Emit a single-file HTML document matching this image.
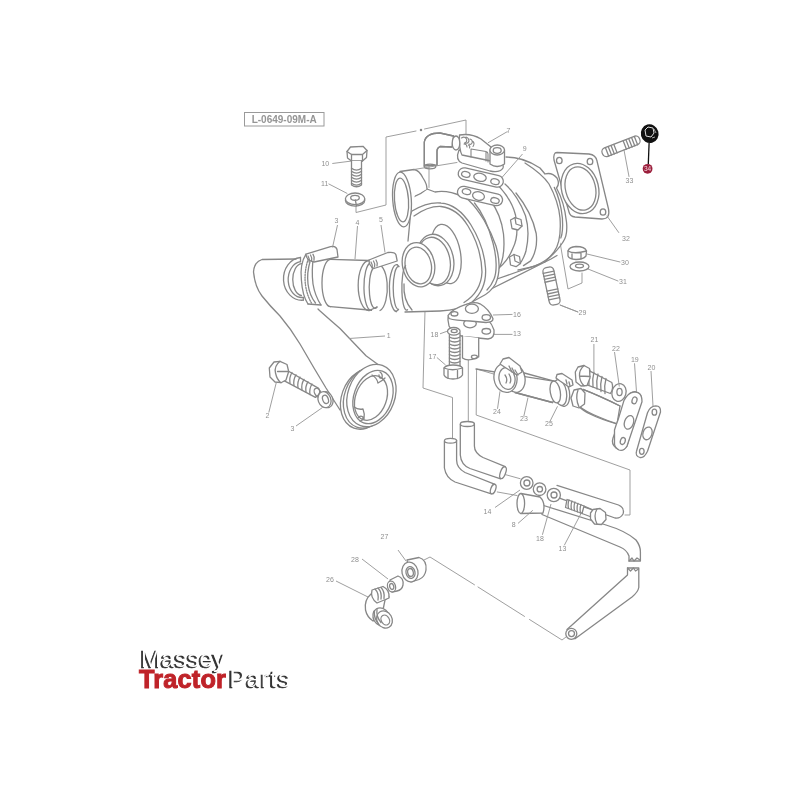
<!DOCTYPE html>
<html><head><meta charset="utf-8"><style>
html,body{margin:0;padding:0;background:#fff;width:800px;height:800px;overflow:hidden}
svg{display:block;filter:blur(0.35px)}
.l{fill:none;stroke:#878787;stroke-width:1.3;stroke-linecap:round;stroke-linejoin:round}
.t{fill:none;stroke:#949494;stroke-width:0.9}
.n{font-family:"Liberation Sans",sans-serif;font-size:7px;fill:#8f8f8f}
</style></head><body>
<svg width="800" height="800" viewBox="0 0 800 800">
<rect width="800" height="800" fill="#fff"/>
<!-- label box -->
<rect x="244.5" y="112.5" width="79.5" height="13.5" fill="none" stroke="#9a9a9a" stroke-width="1"/>
<text x="284.2" y="122.8" text-anchor="middle" font-family="Liberation Sans, sans-serif" font-weight="bold" font-size="10" fill="#959595">L-0649-09M-A</text>

<g class="l">
<!-- assembly lines -->
<path class="t" d="M356,206 L356,212.5 L386,205 L386,137 L416,131 M424.5,129 L466,120 L466,136"/><circle cx="421" cy="130" r="0.6" fill="#aaa"/>
<path class="t" d="M429,166.5 L429,187.5"/>
<path class="t" d="M560,242 L568,289 L582,283 L582,273"/>
<path class="t" d="M425,311 L423,388 L452.5,397.5 L452.5,440"/>
<path class="t" d="M468.3,360 L468.3,422.5"/>
<path class="t" d="M497,375 L476.6,369 L476.2,415 L630,470 L630,515 L625,515"/>
<path class="t" d="M424,560 L430,557 L474.5,584.8 M478,587 L524.5,616.4 M529.5,619.5 L562,640 L566,637"/>
</g>
<!-- PIPE 1 -->
<g class="l">
<path fill="#fff" stroke="none" d="M296,259 L262,259.5 Q254,262 253.5,272 Q255,287 262,296 Q270,306 280,316 Q291,329 300,344 L314,368 L326,388 L340,410 L378,364.5 L366,355.7 Q352,341 340,328.5 Q329,319 316,303 Z"/>
<path d="M296,259 L262,259.5 Q254,262 253.5,272 Q255,287 262,296 Q270,306 280,316 Q291,329 300,344 L314,368 L326,388 L340,410"/>
<path d="M378,364.5 L366,355.7 Q352,341 340,328.5 Q329,319 319.5,310.5 L318,309"/>
<!-- flange -->
<ellipse cx="364.5" cy="399" rx="23" ry="31" transform="rotate(20 364.5 399)" fill="#fff"/>
<ellipse cx="367.5" cy="397.5" rx="23" ry="31.5" transform="rotate(20 367.5 397.5)" fill="#fff"/>
<ellipse cx="371.4" cy="395.5" rx="23.5" ry="32" transform="rotate(20 371.4 395.5)" fill="#fff"/>
<ellipse cx="373" cy="397" rx="19" ry="27.5" transform="rotate(20 373 397)" fill="#fff"/>
<ellipse cx="371" cy="398" rx="15.5" ry="23" transform="rotate(20 371 398)" fill="#fff"/>
<path d="M372,375 Q377,378 378,383 Q382,381 385,378 M380,372 q3,2 2,6 q-3,1 -3,-3"/>
<path d="M354,407 Q358,410 363,409 Q365,414 364,419 M358,418 q2,-3 5,-1 q0,4 -3,4"/>
</g>
<!-- TURBO -->
<g class="l">
<!-- turbine housing outer -->
<path fill="#fff" stroke="none" d="M506,157 C515,157 528,160 540,168 L545,174 Q552,172 557,178 Q560,184 556.5,188 C561,196 564,208 565,222 C566,232 565,238 561,242 C556,253 547,261 535,266 C528,268 522,269 500,272 L480,205 Z"/>
<path d="M506,157 C515,157 528,160 540,168 L545,174 Q552,172 557,178 Q560,184 556.5,188 C561,196 565,208 566.5,222 C567.5,232 566,238 563,242 C556,253 547,261 535,266 C528,268 522,269 518,270"/>
<path d="M554.3,187.4 C558,195 561,205 562.4,218 C563,228 562.5,234 560.8,238"/>
<path d="M525,163 C536,170 545,178 549,184 C555,195 559,207 560,218 C561,232 559,245 554,252 C551,256 548,259 544.5,262.2"/>
<path d="M516,193 C525,204 533,218 536.2,233.5 C537.5,244 535,254 530.7,260.9 L523.5,265.6"/>
<path d="M505,184 C514,192 521,204 525.5,215.7 C528.5,226 528.5,240 525.9,251.3 C524.5,256 523,259 521.2,262"/>
<path d="M498.8,186 C507,195 513,205 515.5,215 C518,228 517,240 513,248 C510,256 505,263 499,268"/>
<path d="M490,200 C497,209 502,222 503.5,234 C505,250 503,262 498,270 L494,276"/>
<!-- bolts -->
<path fill="#fff" d="M510.5,220 L515,217.7 L521,219.5 L522,226 L518,230 L512,228.5 Z M509.5,257 L514,254.5 L519.5,256.5 L520.5,263.5 L516,266.7 L510.5,265 Z"/>
<path d="M515,217.7 L516,224 L522,226 M514,254.5 L515,261 L520.5,263.5"/>
<!-- foot -->
<path d="M497,279 L541,263.5 M491,289 L551,259 L557,255.5"/>
<!-- compressor back -->
<path fill="#fff" stroke="none" d="M411,198 C416,196 420,195 427,189 L435,192 C445,190 458,193 468.5,200 C479,210 490,228 496,246 C500,260 500,274 495.5,284 C492,290 487,294 482,296.5 L440,311 L410,311 Z"/>
<path d="M411,198 C416,196 420,195 427,189 L435,192 C445,190 458,193 468.5,200 C479,210 490,228 496,246 C500,260 500,274 495.5,284 C492,290 487,294 482,296.5 L472,302"/>
<path d="M474.5,203 C482,212 489,228 493,243 C497,258 497,272 494,279 C492,284 490,287 487,290"/>
<!-- compressor front disc -->
<path fill="#fff" stroke="none" d="M412,211 C422,205 432,202 441,203 C454,204 464,214 471,225 C479,238 484.5,253 485.5,268 C486.5,282 481,294 472,302 C463,308 452,310.5 440,311 L410,311 L406,266 Z"/>
<path d="M408,241 L410,220 Q410,214 412,211 C422,205 432,202 441,203 C454,204 464,214 471,225 C479,238 484.5,253 485.5,268 C486.5,282 481,294 472,302 C463,308 452,310.5 440,311 L405,312"/>
<path d="M414,216 C424,209 432,206 441,206.5 C453,208 462,216 468,226 C476,239 481.5,254 482,272 C481.5,284 476,295 464,302.5"/>
<!-- nozzle -->
<ellipse cx="446" cy="254" rx="14.5" ry="30" transform="rotate(-10 446 254)" fill="#fff"/>
<ellipse cx="435.5" cy="260" rx="18" ry="26" transform="rotate(-12 435.5 260)" fill="#fff"/>
<ellipse cx="434" cy="261" rx="16" ry="24" transform="rotate(-12 434 261)" fill="#fff"/>
<ellipse cx="418.5" cy="264.7" rx="16" ry="22.3" transform="rotate(-12 418.5 264.7)" fill="#fff"/>
<ellipse cx="418.3" cy="265.5" rx="13" ry="18.5" transform="rotate(-12 418.3 265.5)" fill="#fff"/>
<!-- volute outlet curve -->
<path d="M404,284 Q403,300 412,310"/>
<!-- inlet tube top-left -->
<path fill="#fff" stroke="none" d="M400,171.5 L414,169.5 Q419,170 423,178 Q427,184 427,189 L415,195 L411,210 L405,226 Z"/>
<path d="M400,171.5 L414,169.5 Q419,170 423,178 Q427,184 427,189"/>
<ellipse cx="402" cy="199.5" rx="9.3" ry="27.5" transform="rotate(-4 402 199.5)" fill="#fff"/>
<ellipse cx="401.5" cy="200" rx="7" ry="22" transform="rotate(-4 401.5 200)" fill="#fff"/>
</g>
<!-- HOSES 3,4,5 -->
<g class="l">
<path fill="#fff" stroke="none" d="M299,256 L401,260 L401,312 L302,303 Z"/>
<!-- ring 3 (volute outlet) -->
<path d="M405.6,265.6 A4.6,22 0 0 0 407.5,309.7"/>
<!-- ring 2 -->
<path d="M397.2,264.7 A7.3,23.4 0 0 0 396.2,311.5 M398.5,266.5 A5.3,21.5 0 0 0 398.5,309.5"/>
<path d="M397.2,264.7 L399,266.5 M396.2,311.5 L398.5,309.5"/>
<!-- hose end ring (right part) -->
<path d="M376,265 A9,22.5 0 0 1 380,310.5"/>
<!-- clamp 5 -->
<path d="M369,260.5 A10.8,25 0 0 0 369,310.6 M370.5,263 A7,23.5 0 0 0 371.5,310.3 M373,268.5 A5.5,19.5 0 0 0 377,307"/>
<path d="M369,310.6 L377,307"/>
<path fill="#fff" d="M369,260 L387.8,252.5 Q395,251.5 396,255 L397.2,261 L374,268.5 Q369,266 369,260 Z"/>
<path d="M371,262 q2,3 1,6 M373.5,261 q2,3 1,6 M376,260 q2,3 1,6"/>
<!-- hose 4 -->
<path d="M330.5,259.4 L369,260.5 M330.5,306.7 L369,310"/>
<path d="M330.5,259.4 A8.5,23.6 0 0 0 330.5,306.7"/>
<!-- clamp 3 -->
<path d="M306,254.2 C301,262 300.5,272 301.4,280 C302,290 304,298 308,304 M310,261.7 C307.5,270 307.3,278 308,284 C309,292 311.5,298 315.5,303 M313.6,256 C312,266 312,276 313,284 C314.5,293 317,299 321,305"/>
<path d="M308,304 L321,305"/>
<path d="M308.3,259 C305,268 304.5,278 305.5,285 C306.5,292 308.5,298 311.5,303" stroke-dasharray="1.3 1.3"/>
<path fill="#fff" d="M306,254.2 L330.5,246.7 Q336,245.5 337,249.5 L338,257 L314,262 Q306,260 306,254.2 Z"/>
<path d="M308,256 q2,3 1,6 M310.5,255 q2,3 1,6 M313,254.3 q2,3 1,6"/>
<!-- ring A -->
<path d="M300.5,257.5 A18.4,21.4 0 0 0 303.3,300.2 M300.5,261.7 A13.7,17.9 0 0 0 303.3,297.4 M301.4,263.6 A9.4,16 0 0 0 301.4,295.5"/>
<path d="M300.5,257.5 L300.5,261.7 M303.3,300.2 L303.3,297.4"/>
</g>
<!-- PART 7 / 9 -->
<g class="l">
<!-- lower gasket on turbo -->
<rect x="457" y="190.2" width="46" height="11.6" rx="5.8" transform="rotate(13 480 196)" fill="#fff"/>
<ellipse cx="466.5" cy="191.7" rx="4.3" ry="2.8" transform="rotate(13 466.5 191.7)"/>
<ellipse cx="478.5" cy="196" rx="6" ry="4.2" transform="rotate(13 478.5 196)"/>
<ellipse cx="495" cy="200.5" rx="4.3" ry="2.8" transform="rotate(13 495 200.5)"/>
<!-- upper gasket 9 -->
<rect x="457.8" y="171.7" width="46" height="11.6" rx="5.8" transform="rotate(13 480.8 177.5)" fill="#fff"/>
<ellipse cx="465.8" cy="174.3" rx="4.3" ry="2.8" transform="rotate(13 465.8 174.3)"/>
<ellipse cx="480" cy="177.3" rx="6.3" ry="4" transform="rotate(13 480 177.3)"/>
<ellipse cx="495" cy="181.7" rx="4.3" ry="2.8" transform="rotate(13 495 181.7)"/>
<!-- flange 7 -->
<path fill="#fff" d="M459,150 L491,159 Q505,162 503,168 Q500,173 490,171 L462,163 Q455,160 459,150 Z"/>
<path fill="#fff" d="M459.5,135 Q471,133 481,139 L491,147 L491,161 L462,155 Q459,150 459.5,135 Z"/>
<path d="M461.5,138 q3,-2 5,1 q1,3 -2,4 M466,137 q3,1 3,4 q-1,3 -4,2 M470,139 q3,1 2,4 q-1,2 -3,1 M464,144 q3,0 3,3 M468.5,145 q2,1 1,3 M473,141.5 q2,2 0,5" stroke-width="1.1"/>
<path d="M471,149 L486,151.5 Q488,152 488,154 L488,162 M471,149 L471,157 M486,151.5 L486,161" stroke-width="1.1"/>
<path fill="#fff" d="M490,150 L490,164 Q497,169 504.5,164 L504.5,150 Z"/>
<ellipse cx="497.2" cy="150" rx="7.3" ry="5" fill="#fff"/>
<ellipse cx="497.2" cy="150.5" rx="4" ry="2.8"/>
<!-- elbow -->
<path fill="#fff" d="M424.3,166 L424.3,142 Q426,133 440,133 L453.5,136 L452,147 L440,146.5 Q437,148 437,151 L437,165 Z"/>
<path d="M424.3,166 L424.3,142 Q426,133 440,133 L453.5,136 M452,147 L440,146.5 Q437,148 437,151 L437,165"/>
<ellipse cx="430" cy="166.5" rx="5.8" ry="2.3"/>
<ellipse cx="456" cy="143" rx="3.8" ry="7" fill="#fff"/>
<path class="t" d="M414,169.5 L457,162.5"/>
</g>
<!-- GASKET 32 -->
<g class="l">
<path fill="#fff" d="M557,152.5 L589,154 Q596,155 597,161 L608.5,209 Q610.5,219 602,219 L575,217 Q570,216.5 569,212 L554,160 Q553,152.5 557,152.5 Z"/>
<path d="M568,206 l3,-2 l1,5"/>
<ellipse cx="580" cy="188.5" rx="18.5" ry="25.5" transform="rotate(-14 580 188.5)" fill="#fff"/>
<ellipse cx="580.5" cy="188.5" rx="15" ry="22" transform="rotate(-14 580.5 188.5)"/>
<ellipse cx="559.3" cy="160.5" rx="2.8" ry="3.2"/>
<ellipse cx="590" cy="161.5" rx="2.8" ry="3.2"/>
<ellipse cx="603" cy="212" rx="2.8" ry="3.2"/>
<path class="t" d="M607,216 L618.7,232.5"/>
<!-- STUD 33 -->
<g transform="rotate(-21.4 621 146.3)">
<rect x="601" y="141.8" width="40" height="9" rx="4" fill="#fff"/>
<path d="M606,142 v9 M609,142 v9 M612,142 v9 M615,142 v9 M625,142 v9 M628,142 v9 M631,142 v9 M634,142 v9 M637,142 v9"/>
</g>
<path class="t" d="M624,150 L629,176.5"/>
<!-- NUT 30, WASHER 31 -->
<path fill="#fff" d="M568,251 Q569,247 576,246.5 Q585,246.5 586.5,251 L586,256 Q583,259.5 576,259.5 Q569,259 568,256 Z"/>
<path d="M568,251 Q574,254.5 586.5,251 M572,253.5 v5 M581,253.5 v5.5"/>
<ellipse cx="579.5" cy="266.5" rx="9.5" ry="4.5" fill="#fff"/>
<ellipse cx="579.5" cy="266" rx="4" ry="1.8"/>
<path class="t" d="M587,254 L620,262 M588,269 L618,281"/>
<!-- STUD 29 -->
<g transform="rotate(-12 551.5 286)">
<rect x="546" y="267" width="11" height="38" rx="4" fill="#fff"/>
<path d="M546,272 h11 M546,275 h11 M546,278 h11 M546,281 h11 M546,290 h11 M546,293 h11 M546,296 h11 M546,299 h11"/>
</g>
<path class="t" d="M560,305 L578,312"/>
</g>
<!-- NUT 34 highlighted -->
<ellipse cx="649.7" cy="133.7" rx="8.9" ry="9.4" transform="rotate(-15 649.7 133.7)" fill="#111"/>
<path d="M645,130 L648,127 L653,128 L654,133 L651,137 L646,136 Z" fill="none" stroke="#ddd" stroke-width="1"/>
<path d="M654,129 l2,4 M652,138 l3,-1" stroke="#ccc" stroke-width="0.8"/>
<path d="M649.1,143 L648.3,164" stroke="#111" stroke-width="1.3"/>
<circle cx="647.6" cy="168.8" r="4.9" fill="#9b1f3c"/>
<text x="647.6" y="171.2" text-anchor="middle" font-family="Liberation Sans, sans-serif" font-size="6.5" fill="#f3d5dd">34</text>
<!-- BOLT 10 / WASHER 11 -->
<g class="l">
<path fill="#fff" d="M347,151.5 L350.5,147 L363,146.3 L367,150.5 L366.5,157.5 L362.5,161 L351.5,161 L347.5,158 Z"/>
<path d="M347,151.5 L351.5,154.5 L362.5,154.5 L367,150.5 M351.5,154.5 V161 M362.5,154.5 V161"/>
<path fill="#fff" d="M351.5,161 L351.5,185 Q356.5,188.5 361.5,185 L361.5,161"/>
<path d="M351.5,168.3 Q356.5,172 361.5,168.3 M351.5,171.3 Q356.5,175 361.5,171.3 M351.5,174.3 Q356.5,178 361.5,174.3 M351.5,177.3 Q356.5,181 361.5,177.3 M351.5,180.3 Q356.5,184 361.5,180.3 M351.5,183.3 Q356.5,187 361.5,183.3"/>
<ellipse cx="355.1" cy="200.3" rx="9.7" ry="5.8" fill="#fff"/>
<ellipse cx="355.1" cy="198.8" rx="9.7" ry="5.8" fill="#fff"/>
<ellipse cx="355" cy="197.8" rx="4.3" ry="2.5"/>
<path d="M355.3,200 L356.5,205.8"/>
</g>
<!-- BOLT 2 / WASHER 3 -->
<g class="l">
<path fill="#fff" d="M285,369.2 L318.7,388.4 Q322,393 315.4,397.4 L281.6,379.4 Z"/>
<ellipse cx="317.8" cy="392.9" rx="3" ry="5" transform="rotate(-30 317.8 392.9)"/>
<path d="M292,372.5 q-3,5 -2,10.5 M296,374.8 q-3,5 -2,10.5 M300,377.1 q-3,5 -2,10.5 M304,379.4 q-3,5 -2,10.5 M308,381.7 q-3,5 -2,10.5 M312,384 q-3,5 -2,10.5"/>
<path fill="#fff" d="M274,362 L280,361.3 L287,364.5 L288.7,371.5 L286,380 L281,382.7 L275,382 L270,377 L269.3,368 Z"/>
<path d="M280,361.3 Q274,366 275.5,373 Q277,380 281,382.7 M277.5,371.5 L288.5,371.5"/>
<ellipse cx="326.5" cy="399.7" rx="6.3" ry="8.2" transform="rotate(-20 326.5 399.7)" fill="#fff"/>
<ellipse cx="324.5" cy="399.7" rx="6.3" ry="8.2" transform="rotate(-20 324.5 399.7)" fill="#fff"/>
<ellipse cx="325.5" cy="399.4" rx="2.8" ry="4.3" transform="rotate(-20 325.5 399.4)"/>
</g>
<!-- LEFT LABELS & LEADERS -->
<g class="t">
<path d="M332.3,163.5 L351,161.1 M328.5,183.8 L347.3,193.5 M337.5,225 L332.5,247.5 M357.5,226 L355,259 M381,225 L385,252.5 M349,338.5 L385,336 M268.8,412.5 L276.3,382.5 M296,426 L322.5,407.5"/>
</g>
<g class="n">
<text x="325.3" y="165.8" text-anchor="middle">10</text>
<text x="324.7" y="185.8" text-anchor="middle">11</text>
<text x="336.5" y="223.3" text-anchor="middle">3</text>
<text x="357.5" y="224.5" text-anchor="middle">4</text>
<text x="381" y="222.3" text-anchor="middle">5</text>
<text x="388.6" y="338.3" text-anchor="middle">1</text>
<text x="267.5" y="417.5" text-anchor="middle">2</text>
<text x="292.5" y="431.3" text-anchor="middle">3</text>
</g>
<!-- FLANGE 16/13, BOLT 17/18 -->
<g class="l">
<!-- lower plate 13 -->
<path fill="#fff" d="M448,320 Q447,314 455,313 L478,313 Q490,318 494,330 Q495,338 488,339 L463,336.5 Q453,334 449,326 Z"/>
<ellipse cx="470" cy="323.5" rx="6.3" ry="4.3" fill="#fff"/>
<ellipse cx="486.3" cy="331.3" rx="4.3" ry="2.8"/>
<!-- upper plate 16 -->
<path fill="#fff" d="M448,315.6 Q452,309 466,304.4 Q474,301 480,303.8 Q489,309 493,318.8 Q493,322.5 486,322.5 L470,321 Q455,320.5 449,318.5 Z"/>
<ellipse cx="471.9" cy="308.8" rx="6.5" ry="4.6" fill="#fff"/>
<ellipse cx="486.3" cy="317.5" rx="4.2" ry="2.8"/>
<ellipse cx="454.4" cy="313.8" rx="3.5" ry="2.2"/>
<!-- tube below -->
<path fill="#fff" d="M462.5,336 L462.5,358 Q468,362 478.7,357 L478.7,338"/>
<ellipse cx="474.4" cy="357" rx="3" ry="1.8"/>
<!-- bolt 17 -->
<path fill="#fff" d="M449.4,333 L449.4,368 L460,368 L460,333 Z"/>
<path d="M449.4,337 Q454.7,340 460,337 M449.4,340.5 Q454.7,343.5 460,340.5 M449.4,344 Q454.7,347 460,344 M449.4,347.5 Q454.7,350.5 460,347.5 M449.4,351 Q454.7,354 460,351 M449.4,354.5 Q454.7,357.5 460,354.5 M449.4,358 Q454.7,361 460,358 M449.4,361.5 Q454.7,364.5 460,361.5"/>
<path fill="#fff" d="M444,368 Q446,365 453,365 Q461,365 462.5,368 L462.5,375 Q460,379 453,379 Q446,379 444,375 Z"/>
<path d="M444,368 Q452,371.5 462.5,368 M448,370.5 V378.3 M457.5,370.5 V378.5"/>
<ellipse cx="453.8" cy="331.3" rx="6.3" ry="3.8" fill="#fff"/>
<ellipse cx="454.2" cy="331" rx="3" ry="1.6"/>
</g>
<!-- OIL FEED PIPE 24/23/25/21/22/19/20 -->
<g class="l">
<!-- gasket 20 -->
<path fill="#fff" d="M655.8,405.9 Q661,406 660.5,412 L647.5,451.3 Q644,458.5 640,457.5 Q635,456 636.5,451.3 L647.5,412.8 Q650,406 655.8,405.9 Z"/>
<ellipse cx="654.4" cy="412.2" rx="2.3" ry="3"/>
<ellipse cx="647.5" cy="433.4" rx="4.5" ry="6.5" transform="rotate(18 647.5 433.4)"/>
<ellipse cx="641.8" cy="451.3" rx="2.3" ry="3"/>
<!-- pipe to flange -->
<path fill="#fff" d="M583,389.4 Q600,396 620,406 L617,424 Q600,419 590,414 Q582,410 578.8,406 Z"/>
<path d="M583,389.4 Q600,396 620,406 M578.8,406 Q586,412 599,417 Q608,421 617.3,423.8"/>
<!-- flange 19 -->
<path fill="#fff" d="M629.6,393.5 Q637,389 641,396 L627,446 Q622,452 616,448 Q611,444 613,438 Z"/>
<path fill="#fff" d="M633.7,392.2 Q642,391 642,401.8 L627,446 Q624,451.5 619,450 Q614,447 614.5,443 L614.5,430 Q616,425 618,420 L624,400.4 Q628,393 633.7,392.2 Z"/>
<ellipse cx="634.5" cy="400.4" rx="2.4" ry="3.5" transform="rotate(18 634.5 400.4)"/>
<ellipse cx="629" cy="422.4" rx="4.5" ry="7" transform="rotate(18 629 422.4)"/>
<ellipse cx="622.8" cy="441" rx="2.4" ry="3.5" transform="rotate(18 622.8 441)"/>
<!-- washer 22 -->
<ellipse cx="619" cy="392.5" rx="7" ry="9" transform="rotate(15 619 392.5)" fill="#fff"/>
<ellipse cx="619.5" cy="392" rx="2.6" ry="3.6"/>
<!-- bolt 21 -->
<path fill="#fff" d="M585.6,368.8 L611.8,382.5 Q614,388 610.4,393.5 L584.3,383.9 Z"/>
<path d="M590,370 q-2,7 -1,15 M594,372 q-2,7 -1,15 M598,374 q-2,7 -1,15 M602,376.5 q-2,7 -1,15 M606,378.5 q-2,7 -1,15"/>
<path fill="#fff" d="M578,367 L584,365.5 L589.5,368.5 L590,378 L587,385.5 L581,386 L576,382 L575.3,372 Z"/>
<path d="M584,365.5 Q579,370 579.5,376 Q580,382 584,385.8 M579.5,376 L590,376.5"/>
<!-- nut after clamp -->
<path fill="#fff" d="M574,390 L581,388.5 L585,393 L584.5,404 L579,408 L573,406 L571,398 Z"/>
<path d="M578,390 Q575,398 579,407"/>
<!-- clamp 25 -->
<ellipse cx="562" cy="392.5" rx="7.5" ry="14" transform="rotate(-10 562 392.5)" fill="#fff"/>
<ellipse cx="560" cy="392.5" rx="6.5" ry="13" transform="rotate(-10 560 392.5)" fill="#fff"/>
<path fill="#fff" d="M556,378 L557,374.5 L562,373.5 L572,380 L573,385 L569,387 L560,381 Z"/>
<path d="M566,380 l1,4 M569,382 l1,4"/>
<!-- pipe 23 -->
<path fill="#fff" d="M522.5,372.5 L555,381.3 Q562,392 552.5,402.5 L515,392.5 Z"/>
<path d="M476,369 L555,381.3 M515,392.5 L552.5,402.5"/>
<ellipse cx="555.3" cy="392" rx="5" ry="11" transform="rotate(-10 555.3 392)" fill="#fff"/>
<!-- banjo / clamp 24 -->
<ellipse cx="515" cy="378.5" rx="10" ry="14" transform="rotate(-10 515 378.5)" fill="#fff"/>
<ellipse cx="505.5" cy="378" rx="11.5" ry="14.5" transform="rotate(-10 505.5 378)" fill="#fff"/>
<ellipse cx="507" cy="378.5" rx="8" ry="11" transform="rotate(-10 507 378.5)" fill="#fff"/>
<path fill="#fff" d="M500,364 L503,359 L509,357.5 L520,366 L522,372 L517,375 L506,368 Z"/>
<path d="M509,366 l3,6 M512,368 l3,6 M515,370 l3,5 M505,375 q3,4 1,8 M509,374 q3,5 1,9"/>
</g>
<g class="t">
<path d="M493,315 L512.5,314.4 M493.8,334.4 L512.5,334.4 M440,333.8 L446.9,331.3 M436.9,357.5 L445.6,365"/>
<path d="M500,391.3 L497.5,408.8 M528,397.5 L523.8,416.3 M557.5,406.3 L550,421.3"/>
<path d="M593.9,344 L593.9,371.5 M614.5,352 L619.3,386.6 M634.5,363.3 L636.5,392 M651,371 L653,406"/>
<path d="M560,305 L578,312"/>
</g>
<g class="n">
<text x="517" y="317.4" text-anchor="middle">16</text>
<text x="517" y="336.3" text-anchor="middle">13</text>
<text x="434.4" y="336.9" text-anchor="middle">18</text>
<text x="432.5" y="358.8" text-anchor="middle">17</text>
<text x="497" y="414.4" text-anchor="middle">24</text>
<text x="524" y="421.3" text-anchor="middle">23</text>
<text x="549" y="426.3" text-anchor="middle">25</text>
<text x="594.5" y="341.5" text-anchor="middle">21</text>
<text x="616" y="350.5" text-anchor="middle">22</text>
<text x="634.8" y="361.5" text-anchor="middle">19</text>
<text x="651.5" y="369.9" text-anchor="middle">20</text>
<text x="582.5" y="314.5" text-anchor="middle">29</text>
<text x="625" y="264.5" text-anchor="middle">30</text>
<text x="623" y="284.4" text-anchor="middle">31</text>
<text x="626" y="240.5" text-anchor="middle">32</text>
<text x="629.5" y="183.4" text-anchor="middle">33</text>
<text x="508.5" y="132.5" text-anchor="middle">7</text>
<text x="524.8" y="151.3" text-anchor="middle">9</text>
</g>
<g class="t"><path d="M488,142.8 L507.5,131.5 M501.5,178 L522.5,154"/></g>
<!-- LOWER: tubes 14, washers, block 8, bolt 13, long pipe -->
<g class="l">
<!-- tube B (back) -->
<path fill="#fff" d="M460.3,424.4 L460.3,455 Q461,465 470,468.5 L500.6,478.8 L505.3,466.6 L483,457.5 Q474.4,453 474.4,446 L474.4,423.4 Z"/>
<ellipse cx="467.3" cy="424" rx="7" ry="2.5" fill="#fff"/>
<ellipse cx="503" cy="472.7" rx="2.6" ry="6.2" transform="rotate(20 503 472.7)" fill="#fff"/>
<!-- tube A (front) -->
<path fill="#fff" d="M444.4,441.3 L444.4,468 Q446,478 455,482 L491.3,493.8 L495,484.4 L465,472.5 Q456.6,468 456.6,460 L456.6,440.3 Z"/>
<ellipse cx="450.5" cy="440.8" rx="6.1" ry="2.4" fill="#fff"/>
<ellipse cx="493.2" cy="489.1" rx="2.4" ry="5" transform="rotate(20 493.2 489.1)" fill="#fff"/>
<!-- upper short pipe -->
<path fill="#fff" stroke="none" d="M555.5,484.9 L618.5,505 Q625,508 623,514 Q620,519 615,518 L556,497 Z"/>
<path d="M557,485.4 L618.5,505 Q625,508 623,514 Q620,519 615,518 L558,497.6"/>
<!-- long pipe top segment -->
<path fill="#fff" d="M542,505 L606,525 Q626,531 636,540 Q640.5,546 640.4,552 L640.4,561 L629,561 L629,556 Q627,550 620,547 L542,514.5 Z"/>
<path d="M629,561 l3,-3 l2,3 l3,-3 l3,2"/>
<!-- long pipe lower segment -->
<path fill="#fff" d="M627.5,568 L638.8,568 L638.8,587.5 Q638,592 632,597 L575,638.8 L567,629.5 L627.5,575 Z"/>
<path d="M627.5,568 l3,3 l3,-3 l2,3 l3,-2"/>
<circle cx="571.3" cy="633.8" r="5.5" fill="#fff"/>
<circle cx="571.5" cy="633.6" r="3"/>
<!-- block 8 -->
<path fill="#fff" d="M521,493.5 L540,497 Q546,503 543,513 L521,513.5 Z"/>
<ellipse cx="520.8" cy="503.5" rx="3.8" ry="10" fill="#fff"/>
<!-- washers -->
<circle cx="526.7" cy="483" r="6.3" fill="#fff"/>
<circle cx="526.9" cy="483" r="3"/>
<circle cx="539.6" cy="489.2" r="6.3" fill="#fff"/>
<circle cx="539.8" cy="489.2" r="2.7"/>
<circle cx="553.8" cy="495" r="6.6" fill="#fff"/>
<circle cx="554" cy="495" r="3"/>
<!-- bolt 13 -->
<path fill="#fff" d="M567,499.5 L584,506 L582,513.5 L565.5,507.5 Z"/>
<path d="M569,499.8 q-1.5,4 -0.5,8.5 M572,501 q-1.5,4 -0.5,8.5 M575,502 q-1.5,4 -0.5,8.5 M578,503.3 q-1.5,4 -0.5,8.5 M581,504.5 q-1.5,4 -0.5,8.5"/>
<path d="M584,506 L592,509.5 M582,513.5 L590,516.5"/>
<path fill="#fff" d="M593,509.5 L600,508.5 L605.5,512.5 L606,519.5 L601.5,524.5 L594.5,524 L590.5,519 L590.5,513 Z"/>
<path d="M597,509 Q593,516 597,524"/>
</g>
<!-- FITTINGS 26/27/28 -->
<g class="l">
<!-- nut 27 -->
<path fill="#fff" d="M407,560 L419,557.5 Q427,560 426,570 Q425,577 419,579.5 L411,582 Z"/>
<ellipse cx="410" cy="572" rx="8" ry="10" transform="rotate(-12 410 572)" fill="#fff"/>
<ellipse cx="410.5" cy="572.5" rx="4.5" ry="6" transform="rotate(-12 410.5 572.5)"/>
<ellipse cx="410.5" cy="572.5" rx="2.8" ry="4" transform="rotate(-12 410.5 572.5)"/>
<!-- fitting 28 -->
<path fill="#fff" d="M390,580 L398,576 Q404,578 403,585 Q402,590 397,591 L392,592 Z"/>
<ellipse cx="391.5" cy="586.5" rx="4" ry="5.5" transform="rotate(-15 391.5 586.5)" fill="#fff"/>
<ellipse cx="391.7" cy="586.5" rx="2" ry="3" transform="rotate(-15 391.7 586.5)"/>
<!-- elbow 26 -->
<path fill="#fff" d="M371,594 Q364,600 365.5,610 Q367,617 373,621 L383,610 L385,600 L389,597 L383,587 Z"/>
<path fill="#fff" d="M372,590 L383,586.5 Q390,590 389,598 L377,603 Q370,598 372,590 Z"/>
<path d="M375,589 q4,4 3,11 M378,588 q4,4 3,11 M381,587.5 q4,4 3,11"/>
<ellipse cx="381.3" cy="617" rx="8" ry="9.5" transform="rotate(-30 381.3 617)" fill="#fff"/>
<ellipse cx="384.5" cy="619.5" rx="7.5" ry="9" transform="rotate(-30 384.5 619.5)" fill="#fff"/>
<ellipse cx="385.3" cy="620" rx="4" ry="5.2" transform="rotate(-30 385.3 620)"/>
<path d="M374.5,611 q-1,7 4,13 M377,609.5 q-1,7 4,13"/>
</g>
<g class="t">
<path d="M495,507.5 L520,490 M518,523.4 L532.8,510.3 M542.4,534.8 L551,504 M564.3,545.3 L581.8,512"/>
<path d="M398,550 L406,561 M362,559 L388,579 M336,581 L368,597"/>
<path d="M496.9,491.9 L517.5,495.6 M505,474.5 L520.5,478.8"/>
</g>
<g class="n">
<text x="487.5" y="513.5" text-anchor="middle">14</text>
<text x="513.7" y="527.3" text-anchor="middle">8</text>
<text x="540" y="540.8" text-anchor="middle">18</text>
<text x="562.5" y="551.3" text-anchor="middle">13</text>
<text x="384.5" y="538.5" text-anchor="middle">27</text>
<text x="355" y="561.5" text-anchor="middle">28</text>
<text x="330" y="582" text-anchor="middle">26</text>
</g>
<!-- LOGO -->
<g font-family="Liberation Sans, sans-serif">
<text x="139.4" y="667.8" font-size="24" letter-spacing="0.3" fill="#333" stroke="#333" stroke-width="0.7">Massey</text>
<text x="141.0" y="667.0" font-size="24" letter-spacing="0.3" fill="#fff">Massey</text>
<text x="139" y="688" font-size="25.3" letter-spacing="0.2" font-weight="bold" fill="#bf2329" stroke="#bf2329" stroke-width="1">Tractor</text>
<text x="227.8" y="688.2" font-size="24" letter-spacing="1.15" fill="#333" stroke="#333" stroke-width="0.7">Parts</text>
<text x="229.4" y="687.4" font-size="24" letter-spacing="1.15" fill="#fff">Parts</text>
</g>
</svg>

</body></html>
